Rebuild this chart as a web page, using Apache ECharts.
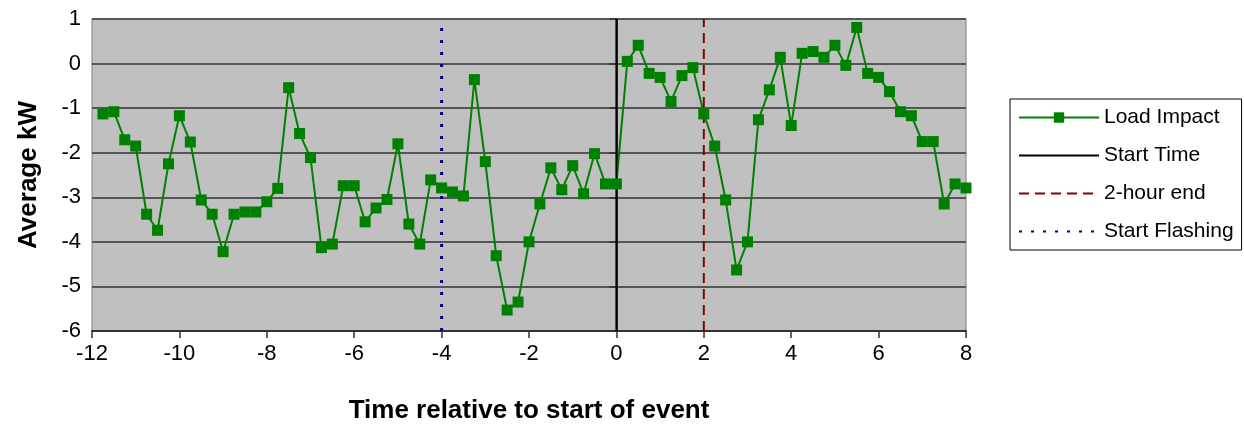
<!DOCTYPE html>
<html>
<head>
<meta charset="utf-8">
<script src="https://cdn.jsdelivr.net/npm/echarts@6/dist/echarts.min.js"></script>
<style>
  html, body { margin: 0; padding: 0; background: #fff; }
  #chart { width: 1244px; height: 429px; }
</style>
</head>
<body>
<div id="chart"></div>
<script>
// hours relative to event start (15 minute readings)
const hours = [
  -11.75, -11.5, -11.25, -11, -10.75, -10.5, -10.25, -10,
  -9.75, -9.5, -9.25, -9, -8.75, -8.5, -8.25, -8,
  -7.75, -7.5, -7.25, -7, -6.75, -6.5, -6.25, -6,
  -5.75, -5.5, -5.25, -5, -4.75, -4.5, -4.25, -4,
  -3.75, -3.5, -3.25, -3, -2.75, -2.5, -2.25, -2,
  -1.75, -1.5, -1.25, -1, -0.75, -0.5, -0.25, 0,
  0.25, 0.5, 0.75, 1, 1.25, 1.5, 1.75, 2,
  2.25, 2.5, 2.75, 3, 3.25, 3.5, 3.75, 4,
  4.25, 4.5, 4.75, 5, 5.25, 5.5, 5.75, 6,
  6.25, 6.5, 6.75, 7, 7.25, 7.5, 7.75, 8
];
// average kW impact
const loadImpact = [
  -1.13, -1.08, -1.71, -1.85, -3.38, -3.74, -2.25, -1.17,
  -1.76, -3.06, -3.38, -4.22, -3.38, -3.33, -3.33, -3.10,
  -2.80, -0.54, -1.57, -2.11, -4.13, -4.05, -2.74, -2.74,
  -3.55, -3.24, -3.05, -1.80, -3.60, -4.05, -2.61, -2.79,
  -2.88, -2.97, -0.36, -2.20, -4.31, -5.53, -5.35, -4.00,
  -3.15, -2.34, -2.83, -2.29, -2.92, -2.02, -2.70, -2.70,
  0.05, 0.41, -0.22, -0.31, -0.85, -0.27, -0.09, -1.13,
  -1.85, -3.06, -4.63, -4.00, -1.26, -0.59, 0.14, -1.39,
  0.23, 0.27, 0.14, 0.41, -0.04, 0.81, -0.22, -0.31,
  -0.63, -1.08, -1.17, -1.75, -1.75, -3.15, -2.70, -2.79
];
// vertical marker lines
const startTime = 0;
const twoHourEnd = 2;
const startFlashing = -4;
const yMin = -6, yMax = 1;

const font = "'Liberation Sans', Arial, sans-serif";
const noMarker = { color: 'rgba(0,0,0,0)', borderWidth: 0 };

function vline(x) {
  return [[x, yMin], [x, yMax]];
}

let myChart = echarts.init(document.getElementById('chart'));
let option = {
  animation: false,
  textStyle: { fontFamily: font, color: '#000' },
  grid: {
    left: 92,
    top: 19,
    width: 874,
    height: 312,
    show: true,
    backgroundColor: '#C0C0C0',
    borderColor: '#808080',
    borderWidth: 1
  },
  legend: {
    orient: 'vertical',
    left: 1010,
    top: 99,
    padding: [8, 8, 8, 8],
    itemWidth: 80,
    itemHeight: 13,
    itemGap: 17,
    itemTextGap: 7,
    backgroundColor: '#fff',
    borderColor: '#000',
    borderWidth: 1,
    borderRadius: 0,
    textStyle: { fontFamily: font, fontSize: 21, color: '#000' },
    data: [
      { name: 'Load Impact' },
      { name: 'Start Time', itemStyle: noMarker },
      { name: '2-hour end', itemStyle: noMarker },
      { name: 'Start Flashing', itemStyle: noMarker }
    ]
  },
  xAxis: {
    type: 'value',
    min: -12,
    max: 8,
    interval: 2,
    name: 'Time relative to start of event',
    nameLocation: 'middle',
    nameGap: 67,
    nameTextStyle: { fontFamily: font, fontSize: 26, fontWeight: 'bold', color: '#000' },
    axisLine: { onZero: false, lineStyle: { color: '#333', width: 2 } },
    axisTick: { length: 7, lineStyle: { color: '#333', width: 1.5 } },
    axisLabel: { fontSize: 22, color: '#000', margin: 12 },
    splitLine: { show: false }
  },
  yAxis: {
    type: 'value',
    min: yMin,
    max: yMax,
    interval: 1,
    name: 'Average kW',
    nameLocation: 'middle',
    nameGap: 50,
    nameTextStyle: { fontFamily: font, fontSize: 26, fontWeight: 'bold', color: '#000' },
    axisLine: { show: true, lineStyle: { color: '#333', width: 2 } },
    axisTick: { show: true, length: 7, lineStyle: { color: '#333', width: 1.5 } },
    axisLabel: { fontSize: 22, color: '#000', margin: 11 },
    splitLine: { show: true, lineStyle: { color: '#555', width: 2 } }
  },
  series: [{
    name: 'Load Impact',
    type: 'line',
    data: hours.map((h, i) => [h, loadImpact[i]]),
    symbol: 'rect',
    symbolSize: 11,
    itemStyle: { color: '#008000' },
    lineStyle: { color: '#008000', width: 2 }
  }, {
    name: 'Start Time',
    type: 'line',
    data: vline(startTime),
    symbol: 'none',
    itemStyle: { color: '#000' },
    lineStyle: { color: '#000', width: 2 }
  }, {
    name: '2-hour end',
    type: 'line',
    data: vline(twoHourEnd),
    symbol: 'none',
    itemStyle: { color: '#800000' },
    lineStyle: { color: '#800000', width: 2, type: [10, 6] }
  }, {
    name: 'Start Flashing',
    type: 'line',
    data: vline(startFlashing),
    symbol: 'none',
    itemStyle: { color: '#000080' },
    lineStyle: { color: '#000080', width: 3, type: [3, 9] }
  }]
};
myChart.setOption(option);
</script>
</body>
</html>
